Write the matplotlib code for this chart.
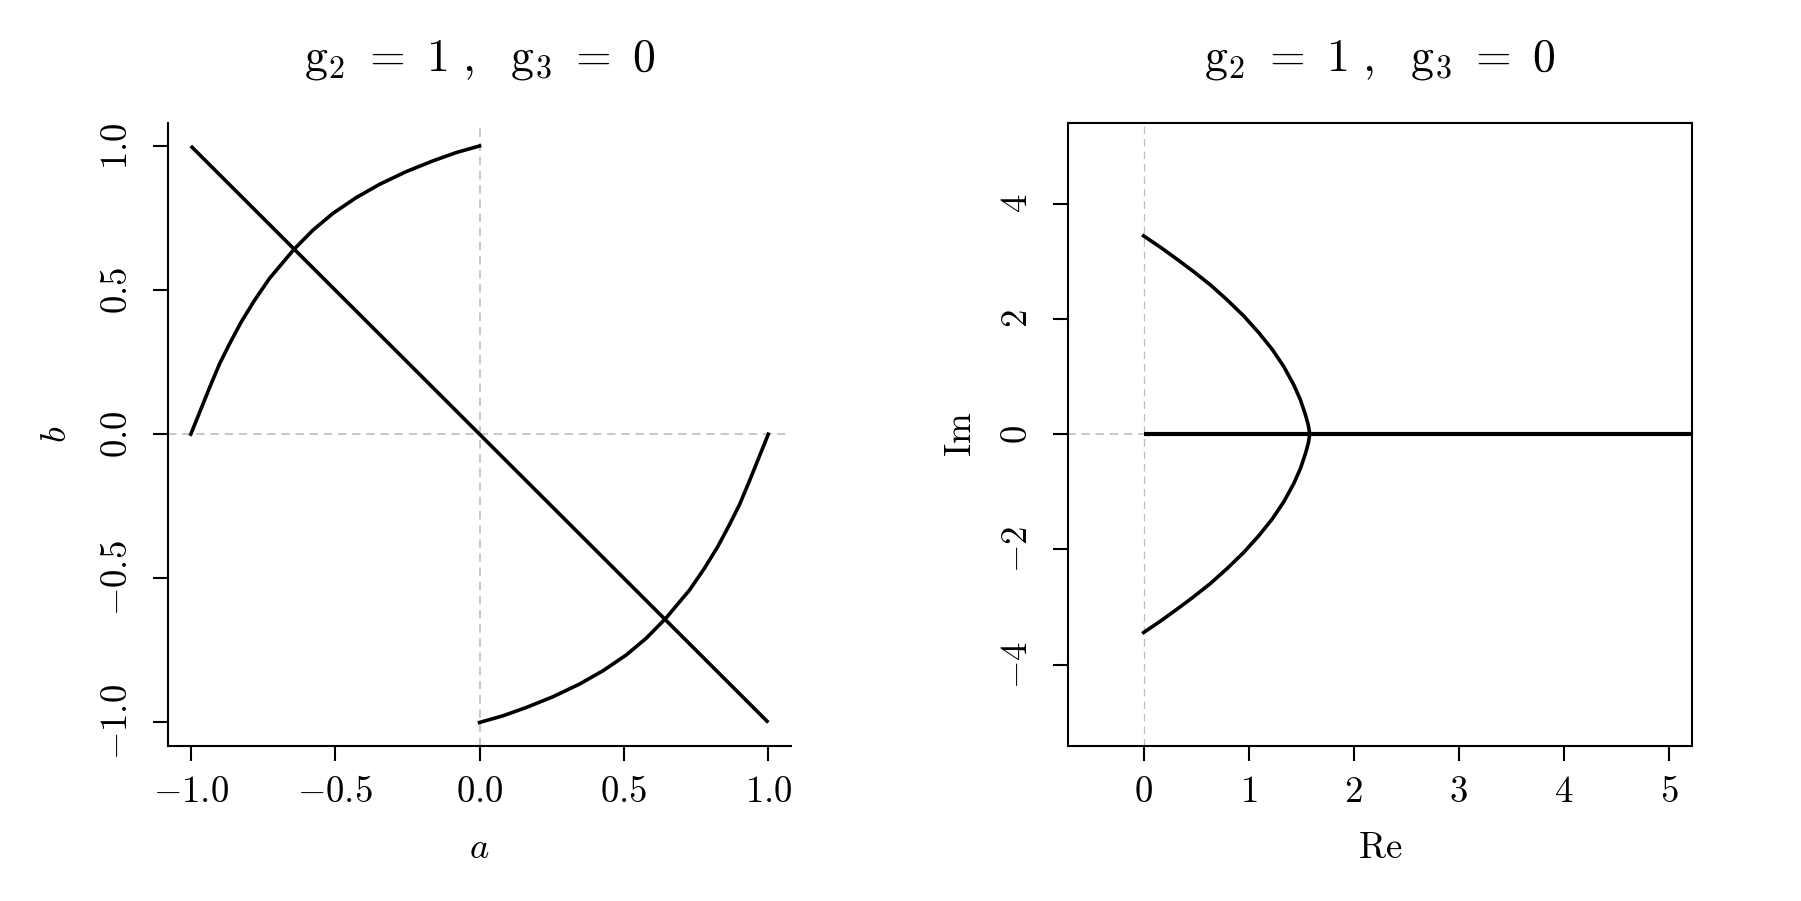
import matplotlib
matplotlib.use("Agg")
import matplotlib.pyplot as plt
import numpy as np

plt.rcParams.update({
    "font.family": "serif",
    "font.serif": ["cmr10"],
    "mathtext.fontset": "cm",
    "axes.unicode_minus": True,
})

# ---- data ----
title = r"$\mathrm{g}_2\ =\ 1\ ,\ \ \mathrm{g}_3\ =\ 0$"

# left panel: diagonal line and the two curve branches (a, b)
line_a = [-1.0, 1.0]
line_b = [1.0, -1.0]

upper_a = [-1.0, -0.969, -0.934, -0.900, -0.865, -0.825, -0.779, -0.727,
           -0.643, -0.577, -0.508, -0.427, -0.346, -0.254, -0.162, -0.081, 0.0]
upper_b = [0.0, 0.077, 0.164, 0.245, 0.315, 0.390, 0.465, 0.541,
           0.641, 0.708, 0.766, 0.821, 0.867, 0.911, 0.948, 0.977, 1.0]

lower_a = [0.0, 0.081, 0.162, 0.254, 0.346, 0.427, 0.508, 0.577,
           0.643, 0.727, 0.779, 0.825, 0.865, 0.900, 0.934, 0.969, 1.0]
lower_b = [-1.0, -0.977, -0.948, -0.911, -0.867, -0.821, -0.766, -0.708,
           -0.641, -0.541, -0.465, -0.390, -0.315, -0.245, -0.164, -0.077, 0.0]

a_ticks = [-1.0, -0.5, 0.0, 0.5, 1.0]
b_ticks = [-1.0, -0.5, 0.0, 0.5, 1.0]

# right panel: curve in the complex plane (Re, Im) and the real axis segment
curve_re = [0.0, 0.163, 0.321, 0.479, 0.638, 0.797, 0.954, 1.097, 1.224,
            1.335, 1.430, 1.493, 1.541, 1.567, 1.582]
curve_im_up = [3.44, 3.239, 3.031, 2.816, 2.586, 2.326, 2.049, 1.759, 1.471,
               1.170, 0.853, 0.593, 0.333, 0.159, 0.0]
curve_im_dn = [-3.44, -3.239, -3.031, -2.816, -2.586, -2.326, -2.049, -1.759,
               -1.471, -1.170, -0.853, -0.593, -0.333, -0.159, 0.0]
real_re = [0.0, 6.0]
real_im = [0.0, 0.0]

re_ticks = [0, 1, 2, 3, 4, 5]
im_ticks = [-4, -2, 0, 2, 4]

# ---- figure ----
W, H = 1801, 901
fig = plt.figure(figsize=(W / 100, H / 100), dpi=100)
ax1 = fig.add_axes([167.7 / W, 1 - 745.5 / H, 623.7 / W, 622.6 / H])
ax2 = fig.add_axes([1068 / W, 1 - 745.5 / H, 624 / W, 622.6 / H])

black_lw = 2.6
grey = "#BEBEBE"
fs = 26.5

# left panel
ax1.axhline(0, color=grey, lw=1.2, dashes=(5, 3.5), zorder=1)
ax1.axvline(0, color=grey, lw=1.2, dashes=(5, 3.5), zorder=1)
ax1.plot(line_a, line_b, color="black", lw=black_lw, solid_capstyle="butt")
ax1.plot(upper_a, upper_b, color="black", lw=black_lw, solid_joinstyle="round")
ax1.plot(lower_a, lower_b, color="black", lw=black_lw, solid_joinstyle="round")
ax1.set_xlim(-1.08, 1.08)
ax1.set_ylim(-1.08, 1.08)
ax1.spines["top"].set_visible(False)
ax1.spines["right"].set_visible(False)
ax1.set_xticks(a_ticks, labels=[f"${v:.1f}$" for v in a_ticks])
ax1.set_yticks(b_ticks, labels=[f"${v:.1f}$" for v in b_ticks])
ax1.set_xlabel(r"$a$", fontsize=fs, va="center")
ax1.set_ylabel(r"$b$", fontsize=fs, va="center")
ax1.xaxis.set_label_coords(0.5, -102.5 / 622.6)
ax1.yaxis.set_label_coords(-111 / 623.7, 0.5)

# right panel
ax2.plot([-1, 0], [0, 0], color=grey, lw=1.2, dashes=(5, 3.5), zorder=1)
ax2.axvline(0, color=grey, lw=0.9, dashes=(6, 4), zorder=1)
ax2.plot(curve_re, curve_im_up, color="black", lw=black_lw, solid_joinstyle="round")
ax2.plot(curve_re, curve_im_dn, color="black", lw=black_lw, solid_joinstyle="round")
ax2.plot(real_re, real_im, color="black", lw=3.0, solid_capstyle="butt")
ax2.set_xlim(-0.72, 5.22)
ax2.set_ylim(-5.4, 5.4)
ax2.set_xticks(re_ticks, labels=[f"${v}$" for v in re_ticks])
ax2.set_yticks(im_ticks, labels=[f"${v}$" for v in im_ticks])
ax2.set_xlabel(r"$\mathrm{Re}$", fontsize=fs, va="center")
ax2.set_ylabel(r"$\mathrm{Im}$", fontsize=fs, va="center")
ax2.xaxis.set_label_coords(0.5, -102.5 / 622.6)
ax2.yaxis.set_label_coords(-107 / 624, 0.5)

for ax in (ax1, ax2):
    for sp in ax.spines.values():
        sp.set_linewidth(1.5)
    ax.tick_params(direction="out", length=10.8, width=1.5, labelsize=fs)
    ax.tick_params(axis="x", pad=11)
    ax.tick_params(axis="y", pad=13.5)
    for lab in ax.get_yticklabels():
        lab.set_rotation(90)
        lab.set_va("center")
    ax.text(0.5, 1 + 63 / 622.6, title, transform=ax.transAxes,
            ha="center", va="center", fontsize=33)

fig.savefig("out.png", dpi=100, facecolor="white")
